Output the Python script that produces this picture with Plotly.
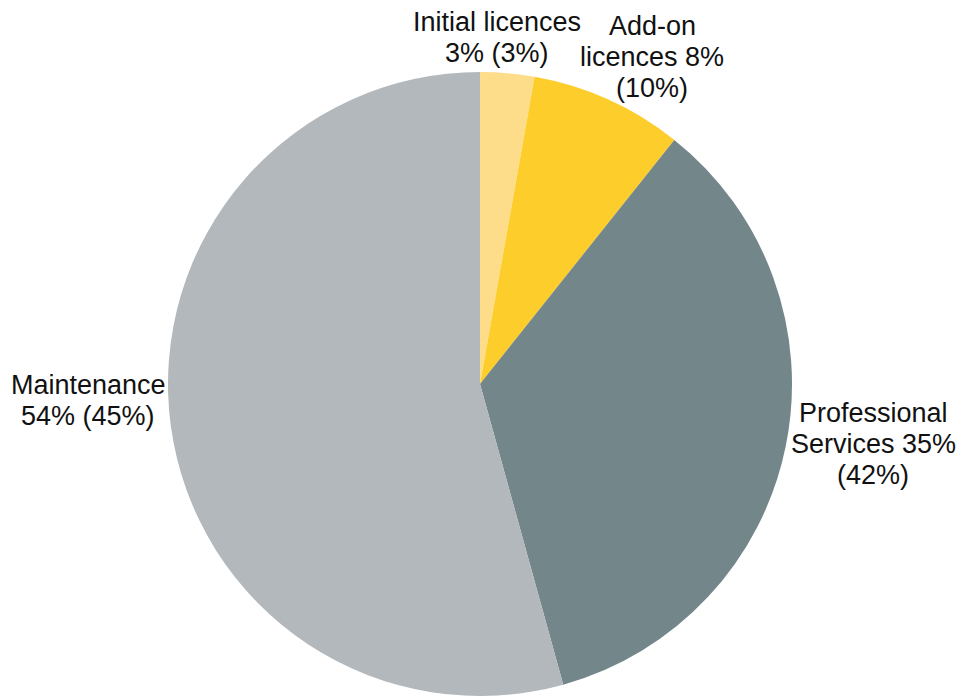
import plotly.graph_objects as go

# Data (revenue share, %; current year and prior year in brackets)
categories = ["Initial licences", "Add-on licences", "Professional Services", "Maintenance"]
values = [2.8, 7.9, 35.0, 54.3]
prior_values = [3, 10, 42, 45]
colors = ["#FEDD8A", "#FDCD2B", "#73868A", "#B3B8BC"]

# Label line splits (text only)
label_lines = [
    ["Initial licences", "{v}% ({p}%)"],
    ["Add-on", "licences {v}%", "({p}%)"],
    ["Professional", "Services {v}%", "({p}%)"],
    ["Maintenance", "{v}% ({p}%)"],
]
# label placement (pixel centers: x, first line y)
label_pos = [(497, 22), (652, 26), (873, 413), (88, 385)]
line_gap = 31

W, H = 961, 696

fig = go.Figure(go.Pie(
    labels=categories,
    values=values,
    sort=False,
    direction="clockwise",
    rotation=0,
    marker=dict(colors=colors, line=dict(width=0)),
    textinfo="none",
    hoverinfo="label+percent",
    showlegend=False,
    domain=dict(x=[168 / W, 792 / W], y=[0, 624 / H]),
))

total = sum(values)
annotations = []
for lines, (px, py), v, p in zip(label_lines, label_pos, values, prior_values):
    pct = round(100 * v / total)
    for i, ln in enumerate(lines):
        annotations.append(dict(
            x=px / W, y=1 - (py + i * line_gap) / H,
            xref="paper", yref="paper",
            text=ln.format(v=pct, p=p),
            showarrow=False,
            xanchor="center", yanchor="middle",
            font=dict(family="Liberation Sans, Arial, sans-serif", size=27, color="#111111"),
        ))

fig.update_layout(
    width=W, height=H,
    margin=dict(l=0, r=0, t=0, b=0),
    paper_bgcolor="white",
    plot_bgcolor="white",
    annotations=annotations,
)

fig.write_html(
    "out.html",
    config={"displayModeBar": False},
    post_script="document.body.style.margin='0';document.body.style.overflow='hidden';",
)
